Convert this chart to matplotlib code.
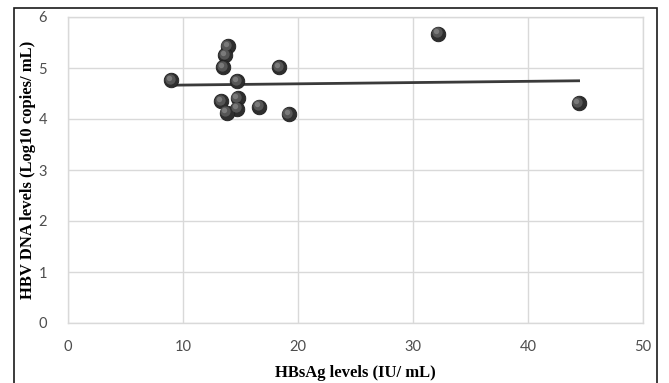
import numpy as np
import matplotlib
matplotlib.use("Agg")
import matplotlib.pyplot as plt
from matplotlib.patches import Rectangle

# Data
hbsag = [8.96, 13.9, 13.65, 13.5, 18.35, 14.7, 13.3, 14.75, 14.7, 13.8, 16.6, 19.2, 32.2, 44.4]
hbv_dna = [4.76, 5.43, 5.25, 5.01, 5.01, 4.74, 4.35, 4.41, 4.20, 4.12, 4.24, 4.09, 5.67, 4.31]
x_ticks = [0, 10, 20, 30, 40, 50]
y_ticks = [0, 1, 2, 3, 4, 5, 6]
x_label = "HBsAg levels (IU/ mL)"
y_label = "HBV DNA levels (Log10 copies/ mL)"

W, H = 669, 383
fig = plt.figure(figsize=(W / 100, H / 100), dpi=100)
ax = fig.add_axes([68 / W, 1 - 323 / H, (643 - 68) / W, (323 - 17) / H])

# outer frame
fig.patches.append(Rectangle((14 / W, -0.02), (657 - 14) / W, 1 - 8 / H + 0.02,
                             transform=fig.transFigure, fill=False,
                             edgecolor="#1a1a1a", linewidth=1.2))

ax.set_xlim(0, 50)
ax.set_ylim(0, 6)
ax.set_xticks(x_ticks)
ax.set_yticks(y_ticks)
ax.grid(True, color="#d9d9d9", linewidth=1.0)
ax.set_axisbelow(True)
for s in ax.spines.values():
    s.set_color("#d9d9d9")
    s.set_linewidth(1.0)
ax.tick_params(length=0, labelsize=10.5, labelcolor="#4d4d4d", pad=12)
for lab in ax.get_xticklabels() + ax.get_yticklabels():
    lab.set_family("Lato")
ax.tick_params(axis="y", pad=15)

# trendline (least squares)
x = np.array(hbsag)
y = np.array(hbv_dna)
m, b = np.polyfit(x, y, 1)
xl = np.array([x.min(), x.max()])
ax.plot(xl, m * xl + b, color="#3a3a3a", linewidth=2.0, zorder=2)

# sphere-like markers
ax.scatter(x, y, s=110, color="#2e2e2e", edgecolors="#1e1e1e", linewidths=0.6, zorder=3)
ax.scatter(x - 0.12, y + 0.03, s=55, color="#555555", linewidths=0, zorder=4)
ax.scatter(x - 0.2, y + 0.05, s=15, color="#7a7a7a", linewidths=0, zorder=5)

ax.set_xlabel(x_label, family="Liberation Serif", fontweight="bold", fontsize=12, labelpad=8)
ax.set_ylabel(y_label, family="Liberation Serif", fontweight="bold", fontsize=12)
ax.yaxis.set_label_coords((36 - 68) / (643 - 68), 0.5)

fig.savefig("out.png", dpi=100)
